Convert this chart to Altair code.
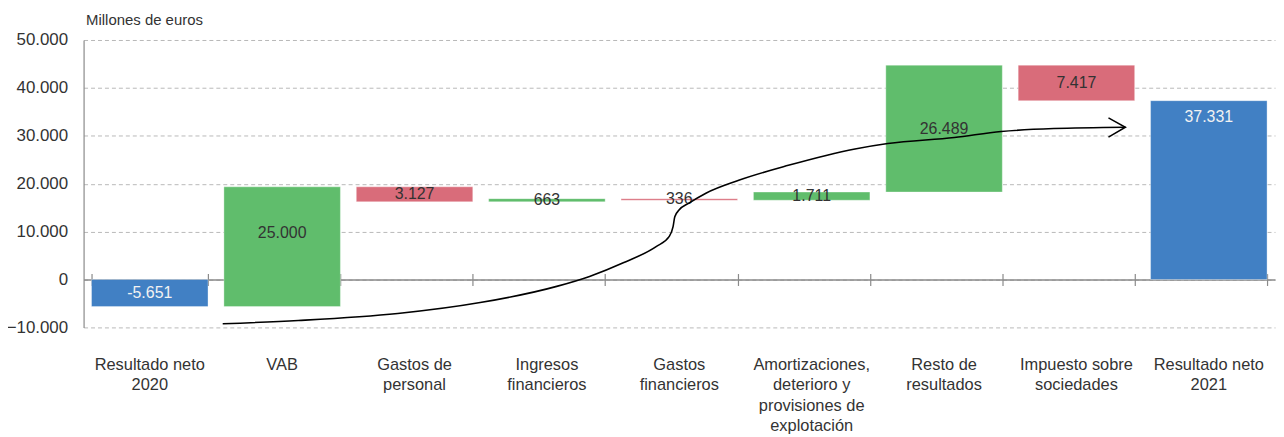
import altair as alt
import pandas as pd

# ---------------- data ----------------
categories = [
    "Resultado neto\n2020",
    "VAB",
    "Gastos de\npersonal",
    "Ingresos\nfinancieros",
    "Gastos\nfinancieros",
    "Amortizaciones,\ndeterioro y\nprovisiones de\nexplotación",
    "Resto de\nresultados",
    "Impuesto sobre\nsociedades",
    "Resultado neto\n2021",
]
changes = [-5651, 25000, -3127, 663, -336, 1711, 26489, -7417, 37331]
kinds = ["total", "increase", "decrease", "increase", "decrease",
         "increase", "increase", "decrease", "total"]
y_ticks = [-10000, 0, 10000, 20000, 30000, 40000, 50000]

# decorative arrow (x in category-step units, y in millions of euros)
arrow_u = [1.051, 1.622, 2.373, 2.996, 3.574, 3.822, 4.077, 4.325, 4.423, 4.453,
           4.466, 4.498, 4.573, 4.701, 4.949, 5.324, 5.827, 6.075, 6.578, 6.931,
           7.329, 7.870]
arrow_v = [-9239, -8553, -7100, -4816, -1433, 644, 3488, 6872, 8948, 11024,
           13100, 14491, 15944, 18020, 20719, 23833, 27259, 28401, 29647, 30893,
           31515, 31785]
head_u = [7.742, 7.870, 7.742]
head_v = [33737, 31785, 29710]

FONT = "Liberation Sans"
BLUE, GREEN, RED = "#4180c4", "#60bd6c", "#d96c7a"


def fmt(v):
    return f"{v:,}".replace(",", ".")


rows = []
running = 0
for i, (c, v, k) in enumerate(zip(categories, changes, kinds)):
    if k == "total":
        start, end = 0, v
        running = v
    else:
        start, end = running, running + v
        running = end
    lo, hi = min(start, end), max(start, end)
    mid = hi / 2 if lo < 0 < hi else (lo + hi) / 2
    label = fmt(v) if k == "total" else fmt(abs(v))
    rows.append(dict(cat=c, kind=k, start=start, end=end, mid=mid, top=hi,
                     label=label, final=(i == len(categories) - 1)))
df = pd.DataFrame(rows)
df_mid = df[~df["final"]]
df_top = df[df["final"]]

arrow_df = pd.DataFrame({"u": arrow_u, "v": arrow_v, "o": list(range(len(arrow_u)))})
head_df = pd.DataFrame({"u": head_u, "v": head_v, "o": list(range(len(head_u)))})

yscale = alt.Scale(domain=[-10000, 50000], nice=False, zero=False)
band = alt.Scale(type="band", domain=categories, paddingInner=0.12, paddingOuter=0.06)
color = alt.Color("kind:N", scale=alt.Scale(domain=["total", "increase", "decrease"],
                                            range=[BLUE, GREEN, RED]), legend=None)

label_axis = alt.Axis(title=None, orient="bottom", domain=False, ticks=False, tickSize=0,
                      grid=False, labelAngle=0, labelFont=FONT, labelFontSize=16.5,
                      labelColor="#333333", labelPadding=29, labelLineHeight=20.7,
                      labelLimit=400, labelExpr="split(datum.label, '\\n')")
zero_axis = alt.Axis(title=None, orient="bottom", labels=False, grid=False, domain=True,
                     domainColor="#8a8a8a", domainWidth=1.4, ticks=True, tickSize=6,
                     tickColor="#8a8a8a", tickWidth=1.2, tickBand="extent", offset=-48.17)
top_axis = alt.Axis(title=None, orient="top", labels=False, grid=False, domain=False,
                    ticks=True, tickSize=6, tickColor="#8a8a8a", tickWidth=1.2,
                    tickBand="extent", offset=-240.83)

y_axis = alt.Axis(values=y_ticks, grid=True, gridDash=[4, 3], gridColor="#b8b8b8", gridWidth=1,
                  domain=True, domainColor="#8a8a8a", domainWidth=1.2, ticks=False, tickSize=0,
                  labelFont=FONT, labelFontSize=17, labelColor="#333333", labelPadding=16,
                  labelExpr="replace(format(datum.value, ','), ',', '.')",
                  title="Millones de euros", titleAngle=0, titleFont=FONT, titleFontSize=15,
                  titleFontWeight="normal", titleColor="#333333", titleAlign="left",
                  titleBaseline="middle", titleX=2, titleY=-21)

bars = alt.Chart(df).mark_bar(stroke="white", strokeOpacity=0.35, strokeWidth=1).encode(
    x=alt.X("cat:N", sort=categories, scale=band, axis=label_axis),
    y=alt.Y("start:Q", scale=yscale, axis=y_axis),
    y2="end:Q",
    color=color,
)

text_mid = alt.Chart(df_mid).mark_text(font=FONT, fontSize=16, baseline="middle").encode(
    x=alt.X("cat:N", sort=categories, scale=band, axis=zero_axis),
    y=alt.Y("mid:Q", scale=yscale, axis=None),
    text="label:N",
    color=alt.condition(alt.datum.kind == "total", alt.value("#f2f2f2"), alt.value("#333333")),
)

text_top = alt.Chart(df_top).mark_text(font=FONT, fontSize=16, baseline="top", dy=8,
                                       color="#f2f2f2").encode(
    x=alt.X("cat:N", sort=categories, scale=band, axis=top_axis),
    y=alt.Y("top:Q", scale=yscale, axis=None),
    text="label:N",
)

uscale = alt.Scale(domain=[0, len(categories)], nice=False, zero=False)
arrow = alt.Chart(arrow_df).mark_line(color="black", strokeWidth=1.6,
                                      interpolate="monotone").encode(
    x=alt.X("u:Q", scale=uscale, axis=None),
    y=alt.Y("v:Q", scale=yscale, axis=None),
    order="o:Q",
)
head = alt.Chart(head_df).mark_line(color="black", strokeWidth=1.5).encode(
    x=alt.X("u:Q", scale=uscale, axis=None),
    y=alt.Y("v:Q", scale=yscale, axis=None),
    order="o:Q",
)

chart = alt.layer(bars, text_mid, text_top, arrow, head).resolve_scale(
    x="independent"
).resolve_axis(x="independent", y="independent").properties(
    width=1198, height=289,
    autosize=alt.AutoSizeParams(type="none"),
    padding={"left": 76, "top": 31, "right": 1, "bottom": 106},
).configure_view(stroke=None)

chart.save("out.html", embed_options={"renderer": "svg", "actions": False})
